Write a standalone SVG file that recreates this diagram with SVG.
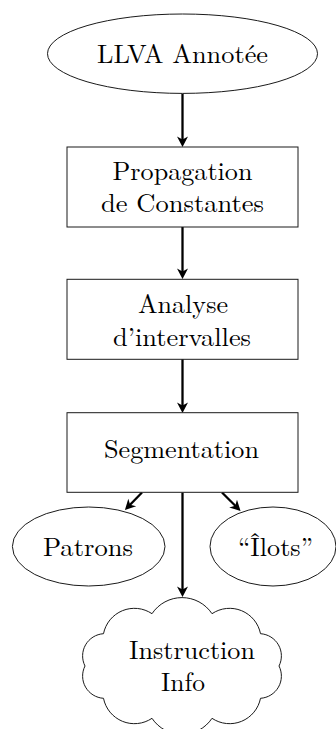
<svg xmlns="http://www.w3.org/2000/svg" width="336" height="729" viewBox="0 0 336 729">
<style>
.shape{fill:#fff;stroke:#1a1a1a;stroke-width:1}
.lbl{font-size:26px;fill:#000;text-anchor:middle}
.arr{fill:none;stroke:#000;stroke-width:2.3;marker-end:url(#stealth)}
</style>
<defs>
<marker id="stealth" markerUnits="userSpaceOnUse" viewBox="-5 -7 12 14" markerWidth="12" markerHeight="14" refX="0" refY="0" orient="auto">
<path d="M6,0 L-4.5,-5.5 L-1.5,0 L-4.5,5.5 Z" fill="#000"/>
</marker>
</defs>
<rect width="336" height="729" fill="#fff"/>
<g id="connectors">
<line class="arr" x1="182.5" y1="93.5" x2="182.5" y2="141"/>
<line class="arr" x1="182.5" y1="227" x2="182.5" y2="273"/>
<line class="arr" x1="182.5" y1="359" x2="182.5" y2="407"/>
<line class="arr" x1="182.5" y1="492.5" x2="182.5" y2="591"/>
<line class="arr" x1="142" y1="492.5" x2="129.1" y2="505.7"/>
<line class="arr" x1="222" y1="492.5" x2="236.3" y2="506.7"/>
</g>
<g font-family="Latin Modern Roman, Liberation Serif, serif">
<g id="llva">
<ellipse class="shape" cx="182.5" cy="53.7" rx="135" ry="39.7"/>
<text class="lbl" x="182.5" y="63.3" textLength="171" lengthAdjust="spacingAndGlyphs">LLVA Annotée</text>
</g>
<g id="propagation">
<rect class="shape" x="67" y="147" width="231" height="80"/>
<text class="lbl" x="182.5" y="180" textLength="140" lengthAdjust="spacingAndGlyphs">Propagation</text>
<text class="lbl" x="182.5" y="212" textLength="163" lengthAdjust="spacingAndGlyphs">de Constantes</text>
</g>
<g id="analyse">
<rect class="shape" x="67" y="279.3" width="231" height="80"/>
<text class="lbl" x="183" y="313.3" textLength="90" lengthAdjust="spacingAndGlyphs">Analyse</text>
<text class="lbl" x="182" y="345.5" textLength="138" lengthAdjust="spacingAndGlyphs">d’intervalles</text>
</g>
<g id="segmentation">
<rect class="shape" x="67" y="412.7" width="231" height="79.6"/>
<text class="lbl" x="181.5" y="458" textLength="155" lengthAdjust="spacingAndGlyphs">Segmentation</text>
</g>
<g id="patrons">
<ellipse class="shape" cx="88.7" cy="546.5" rx="76.3" ry="39.5"/>
<text class="lbl" x="88" y="555.5" textLength="90" lengthAdjust="spacingAndGlyphs">Patrons</text>
</g>
<g id="ilots">
<ellipse class="shape" cx="273" cy="546.5" rx="63" ry="39.5"/>
<text class="lbl" x="275.5" y="556" textLength="75" lengthAdjust="spacingAndGlyphs">“Îlots”</text>
</g>
<g id="instruction-info">
<path class="shape" d="M152,613.7 A36,36 0 0 1 212,613.7 A31.5,31.5 0 0 1 260.5,633.7 A22.3,22.3 0 0 1 279,666 A22.3,22.3 0 0 1 260.5,698.3 A31.5,31.5 0 0 1 212,718.3 A36,36 0 0 1 152,718.3 A31.5,31.5 0 0 1 103.5,698.3 A22.3,22.3 0 0 1 85,666 A22.3,22.3 0 0 1 103.5,633.7 A31.5,31.5 0 0 1 152,613.7 Z"/>
<text class="lbl" x="192" y="658.5" textLength="126" lengthAdjust="spacingAndGlyphs">Instruction</text>
<text class="lbl" x="183" y="690.5" textLength="44" lengthAdjust="spacingAndGlyphs">Info</text>
</g>
</g>
</svg>
